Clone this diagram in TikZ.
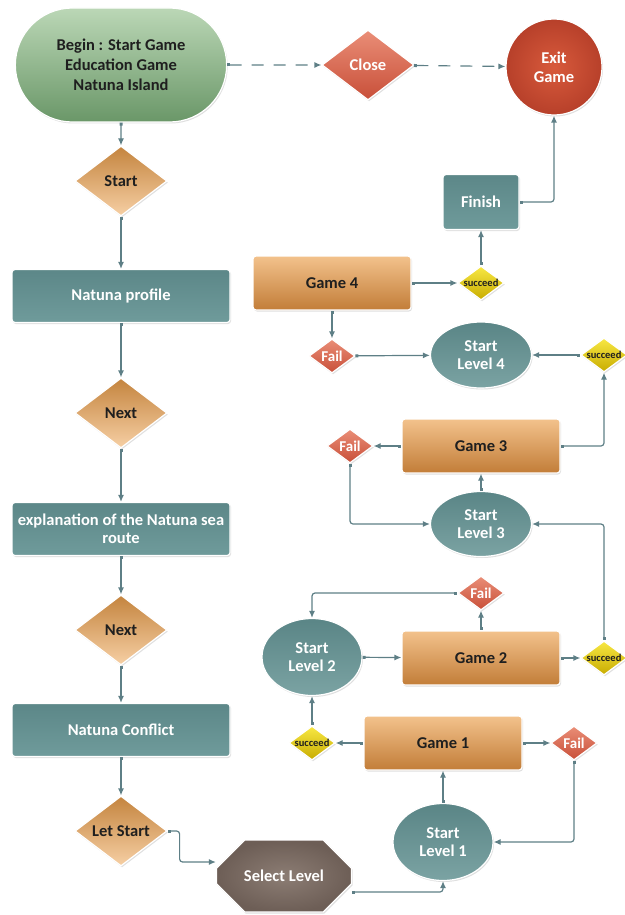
\documentclass[tikz,border=0pt]{standalone}
\usepackage{fontspec}
\setmainfont{Carlito}
\usetikzlibrary{shapes.geometric,shapes.misc,arrows.meta,shadows}

\definecolor{linkc}{HTML}{5E7F86}
\definecolor{txtdark}{HTML}{1F1F1F}
\definecolor{greenTop}{HTML}{BBD7B6}
\definecolor{greenBot}{HTML}{6A9768}
\definecolor{orangeTop}{HTML}{C4843E}
\definecolor{orangeBot}{HTML}{F6CFA4}
\definecolor{gameTop}{HTML}{F3C28C}
\definecolor{gameBot}{HTML}{C27D38}
\definecolor{tealTop}{HTML}{5C8788}
\definecolor{tealBot}{HTML}{6F9B9B}
\definecolor{levelTop}{HTML}{5A8586}
\definecolor{levelBot}{HTML}{7BA3A3}
\definecolor{redTop}{HTML}{EA8E77}
\definecolor{redBot}{HTML}{C84F39}
\definecolor{exitIn}{HTML}{D85A3C}
\definecolor{exitOut}{HTML}{B7402A}
\definecolor{yellowTop}{HTML}{F8E844}
\definecolor{yellowBot}{HTML}{C8AC00}
\definecolor{selIn}{HTML}{8C7D74}
\definecolor{selOut}{HTML}{6D5E56}

\tikzstyle{arrow} = [line width=1.2pt, draw=linkc, {Square[length=3pt,width=3pt]}-{Latex[length=7pt,width=6pt]}, rounded corners=3pt]
\tikzstyle{arrow_dash} = [arrow, dash pattern=on 12pt off 10pt]
\tikzstyle{base} = [align=center, draw=white, line width=1.2pt, drop shadow={opacity=0.25, shadow xshift=1pt, shadow yshift=-1.5pt}]
\tikzstyle{begin_box} = [base, rounded rectangle, minimum width=218pt, minimum height=114pt, top color=greenTop, bottom color=greenBot, text=txtdark, font=\bfseries\fontsize{16.5}{20}\selectfont]
\tikzstyle{decision} = [base, diamond, aspect=1.3, inner sep=0pt, minimum width=92pt, minimum height=70pt, top color=orangeTop, bottom color=orangeBot, text=txtdark, font=\bfseries\fontsize{16.5}{19}\selectfont]
\tikzstyle{process} = [base, rectangle, rounded corners=3pt, minimum width=218pt, minimum height=53pt, top color=tealTop, bottom color=tealBot, text=white, font=\bfseries\fontsize{16.5}{18.5}\selectfont]
\tikzstyle{game} = [base, rectangle, rounded corners=3pt, minimum width=158pt, minimum height=54pt, top color=gameTop, bottom color=gameBot, text=txtdark, font=\bfseries\fontsize{16.5}{19}\selectfont]
\tikzstyle{level} = [base, ellipse, inner sep=0pt, minimum width=101pt, minimum height=70pt, top color=levelTop, bottom color=levelBot, text=white, font=\bfseries\fontsize{16.5}{18.5}\selectfont]
\tikzstyle{fail} = [base, diamond, aspect=1.35, inner sep=0pt, minimum width=46pt, minimum height=34pt, top color=redTop, bottom color=redBot, text=white, font=\bfseries\fontsize{15}{17}\selectfont]
\tikzstyle{succeed} = [base, diamond, aspect=1.35, inner sep=0pt, minimum width=46pt, minimum height=34pt, top color=yellowTop, bottom color=yellowBot, text=txtdark, font=\bfseries\fontsize{10.5}{12}\selectfont]

\begin{document}
\begin{tikzpicture}[x=1pt, y=-1pt]
    \useasboundingbox (0,0) rectangle (624,915);

    % main column
    \node (begin_game) [begin_box] at (121,65) {Begin : Start Game\\Education Game\\Natuna Island};
    \node (start) [decision, below of=begin_game, node distance=116pt] {Start};
    \node (profile) [process, below of=start, node distance=115pt] {Natuna profile};
    \node (next_a) [decision, below of=profile, node distance=117pt] {Next};
    \node (explain) [process, below of=next_a, node distance=116pt] {explanation of the Natuna sea\\route};
    \node (next_b) [decision, below of=explain, node distance=101pt] {Next};
    \node (conflict) [process, below of=next_b, node distance=100pt] {Natuna Conflict};
    \node (let_start) [decision, below of=conflict, node distance=101pt] {Let Start};

    % exit
    \node (close) [base, diamond, aspect=1.3, inner sep=0pt, minimum width=92pt, minimum height=70pt, top color=redTop, bottom color=redBot, text=white, font=\bfseries\fontsize{16.5}{19}\selectfont] at (368,65) {Close};
    \node (exit_game) [base, circle, minimum size=96pt, inner color=exitIn, outer color=exitOut, text=white, font=\bfseries\fontsize{16.5}{19}\selectfont] at (554,67) {Exit\\Game};
    \node (finish) [process, minimum width=76pt, minimum height=55pt] at (481,202) {Finish};

    % levels
    \node (select_level) [base, chamfered rectangle, chamfered rectangle xsep=27pt, chamfered rectangle ysep=19pt, minimum width=135pt, minimum height=72pt, inner color=selIn, outer color=selOut, text=white, font=\bfseries\fontsize{16.5}{19}\selectfont] at (284,876) {Select Level};
    \node (level_1) [level, minimum width=100pt, minimum height=77pt] at (443,842) {Start\\Level 1};
    \node (game_1) [game] at (443,743) {Game 1};
    \node (fail_1) [fail] at (574,743) {Fail};
    \node (succeed_1) [succeed] at (312,743) {succeed};
    \node (level_2) [level, minimum width=100pt, minimum height=77pt] at (312,657) {Start\\Level 2};
    \node (game_2) [game] at (481,658) {Game 2};
    \node (fail_2) [fail] at (481,593) {Fail};
    \node (succeed_2) [succeed] at (604,658) {succeed};
    \node (level_3) [level, minimum height=65pt] at (481,524) {Start\\Level 3};
    \node (game_3) [game] at (481,446) {Game 3};
    \node (fail_3) [fail] at (350,446) {Fail};
    \node (succeed_3) [succeed] at (604,355) {succeed};
    \node (level_4) [level, minimum height=66pt] at (481,355) {Start\\Level 4};
    \node (fail_4) [fail] at (332,356) {Fail};
    \node (game_4) [game] at (332,283) {Game 4};
    \node (succeed_4) [succeed] at (481,283) {succeed};

    \draw [arrow_dash] (begin_game) -- (close);
    \draw [arrow_dash] (close) -- (exit_game);

    \draw [arrow] (begin_game) -- (start);
    \draw [arrow] (start) -- (profile);
    \draw [arrow] (profile) -- (next_a);
    \draw [arrow] (next_a) -- (explain);
    \draw [arrow] (explain) -- (next_b);
    \draw [arrow] (next_b) -- (conflict);
    \draw [arrow] (conflict) -- (let_start);
    \draw [arrow] (let_start.east) -- ++(12pt,0) |- ([yshift=14pt]select_level.west);
    \draw [arrow] ([yshift=-16pt]select_level.east) -| (level_1.south);

    \draw [arrow] (level_1) -- (game_1);
    \draw [arrow] (game_1) -- (fail_1);
    \draw [arrow] (fail_1.south) |- (level_1.east);
    \draw [arrow] (game_1) -- (succeed_1);
    \draw [arrow] (succeed_1) -- (level_2);

    \draw [arrow] (level_2) -- (game_2);
    \draw [arrow] (game_2) -- (fail_2);
    \draw [arrow] (fail_2.west) -| (level_2.north);
    \draw [arrow] (game_2) -- (succeed_2);
    \draw [arrow] (succeed_2.north) |- (level_3.east);

    \draw [arrow] (level_3) -- (game_3);
    \draw [arrow] (game_3) -- (fail_3);
    \draw [arrow] (fail_3.south) |- (level_3.west);
    \draw [arrow] (game_3.east) -| (succeed_3.south);

    \draw [arrow] (succeed_3) -- (level_4);
    \draw [arrow] (fail_4) -- (level_4);
    \draw [arrow] (game_4) -- (fail_4);
    \draw [arrow] (game_4) -- (succeed_4);
    \draw [arrow] (succeed_4) -- (finish);
    \draw [arrow] (finish.east) -| (exit_game.south);

\end{tikzpicture}
\end{document}
